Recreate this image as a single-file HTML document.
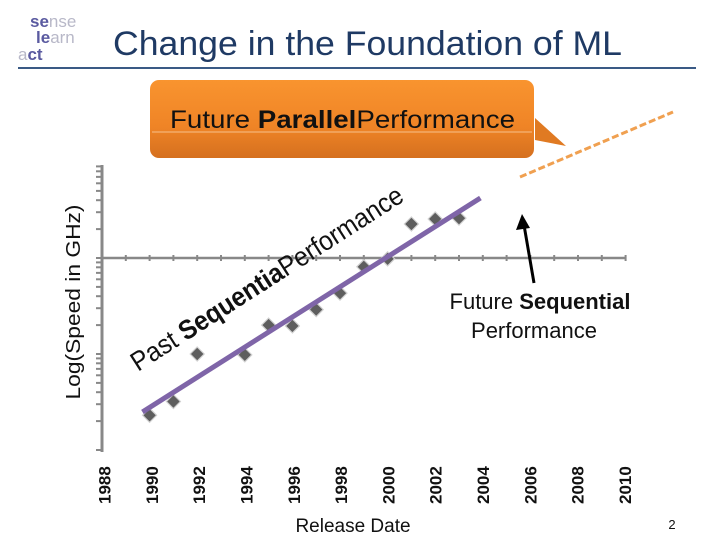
<!DOCTYPE html>
<html><head><meta charset="utf-8"><style>
body{margin:0;background:#fff;}
svg{display:block;font-family:"Liberation Sans","DejaVu Sans",sans-serif;}
</style></head><body>
<svg id="chart" width="720" height="540" viewBox="0 0 720 540">
<defs>
<linearGradient id="og" x1="0" y1="0" x2="0" y2="1">
<stop offset="0" stop-color="#f9942f"/><stop offset="0.6" stop-color="#ef8426"/><stop offset="1" stop-color="#d5701f"/>
</linearGradient>
</defs>
<g font-size="17" font-weight="bold">
<text x="30" y="27" fill="#5a5aa0">se<tspan fill="#b8b8c8" font-weight="normal">nse</tspan></text>
<text x="36" y="43" fill="#5a5aa0">le<tspan fill="#b8b8c8" font-weight="normal">arn</tspan></text>
<text x="18" y="60" fill="#b8b8c8" font-weight="normal">a<tspan fill="#5a5aa0" font-weight="bold">ct</tspan></text>
</g>
<text x="113" y="55" font-size="34" fill="#1f3a64" textLength="509" lengthAdjust="spacingAndGlyphs">Change in the Foundation of ML</text>
<line x1="18" y1="68" x2="696" y2="68" stroke="#3a5a85" stroke-width="2"/>

<g>
<path d="M535,118 L566,146 L535,140 Z" fill="#e07a22"/>
<rect x="150" y="80" width="384" height="78" rx="9" fill="url(#og)"/>
<line x1="152" y1="132" x2="532" y2="132" stroke="#f7c08a" stroke-width="1"/>
<text x="170" y="128" font-size="25" fill="#111" textLength="345" lengthAdjust="spacingAndGlyphs">Future <tspan font-weight="bold">Parallel</tspan>Performance</text>
</g>
<line x1="520" y1="177" x2="673" y2="112" stroke="#f0a050" stroke-width="3" stroke-dasharray="7,3"/>

<g id="axes"></g>
<g id="marks"></g>

<text transform="translate(80,302) rotate(-90)" text-anchor="middle" font-size="20" fill="#111" textLength="195" lengthAdjust="spacingAndGlyphs">Log(Speed in GHz)</text>
<text x="353" y="532" text-anchor="middle" font-size="19" fill="#111">Release Date</text>
<text x="672" y="529" text-anchor="middle" font-size="13" fill="#111">2</text>

<text transform="translate(138,372) rotate(-32.7)" font-size="27" fill="#111" textLength="318" lengthAdjust="spacingAndGlyphs">Past <tspan font-weight="bold">Sequentia</tspan>Performance</text>

<g>
<line x1="534" y1="283" x2="524" y2="225" stroke="#000" stroke-width="3"/>
<path d="M522,214 L516,230 L530,228 Z" fill="#000"/>
<text x="540" y="309" text-anchor="middle" font-size="22" fill="#111">Future <tspan font-weight="bold">Sequential</tspan></text>
<text x="534" y="338" text-anchor="middle" font-size="22" fill="#111">Performance</text>
</g>
</svg>
<script>
const years=[1990,1991,1992,1994,1995,1996,1997,1998,1999,2000,2001,2002,2003];
const speeds=[0.023,0.032,0.1,0.098,0.2,0.196,0.29,0.43,0.81,0.98,2.26,2.55,2.6];
const tickYears=[1988,1990,1992,1994,1996,1998,2000,2002,2004,2006,2008,2010];
const trendYears=[1989.7,2003.9];
const trendSpeeds=[0.0249,4.22];
const NS='http://www.w3.org/2000/svg';
function xs(yr){return 102+(yr-1988)*23.8;}
function ys(v){return 258-Math.log10(v)*96;}
function mk(t,a,p){const e=document.createElementNS(NS,t);for(const k in a)e.setAttribute(k,a[k]);p.appendChild(e);return e;}
const ax=document.getElementById('axes'),mg=document.getElementById('marks');
const yl=mk('line',{x1:102,y1:165,x2:102,y2:452,stroke:'#888','stroke-width':3},ax);


const xl=mk('line',{x1:102,y1:258,x2:xs(2010),y2:258,stroke:'#888','stroke-width':2.5},ax);


for(let d=-3;d<=0;d++){for(let m=1;m<10;m++){const v=m*Math.pow(10,d);const y=ys(v);if(y<165||y>452)continue;
const t=mk('line',{x1:96,y1:y,x2:102,y2:y,stroke:'#888','stroke-width':2},ax);

}}
for(let yr=1988;yr<=2010;yr++){const t=mk('line',{x1:xs(yr),y1:255,x2:xs(yr),y2:261,stroke:'#888','stroke-width':2},ax);

}
tickYears.forEach(yr=>{const x=104.6+(yr-1988)/2*47.3;
const t=mk('text',{transform:'translate('+(x+6)+',504) rotate(-90)','font-size':17,fill:'#111','font-weight':'bold'},ax);
t.textContent=yr;

});
years.forEach((yr,i)=>{const x=xs(yr),y=ys(speeds[i]);
const p=mk('path',{d:`M${x},${y-7}L${x+7},${y}L${x},${y+7}L${x-7},${y}Z`,fill:'#5e5e5e',stroke:'#d0d0d0','stroke-width':1.2},mg);

});
const tl=mk('line',{x1:xs(trendYears[0]),y1:ys(trendSpeeds[0]),x2:xs(trendYears[1]),y2:ys(trendSpeeds[1]),stroke:'#7f65a8','stroke-width':5},mg);


</script>
</body></html>
